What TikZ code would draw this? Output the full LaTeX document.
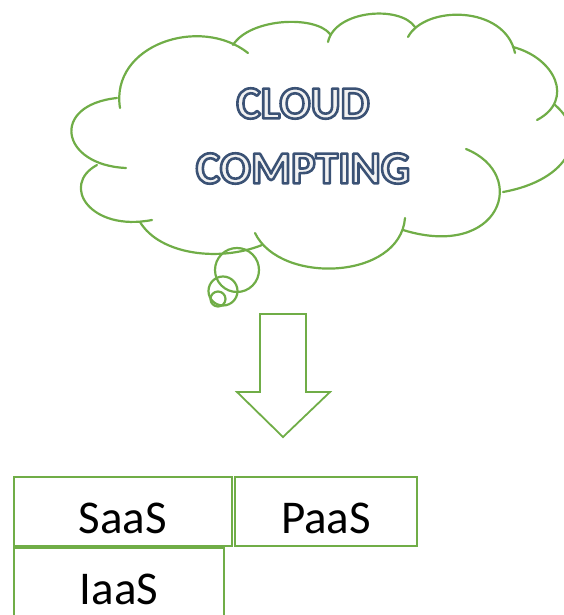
\documentclass[tikz,border=0pt]{standalone}
\usepackage{fontspec}
\setmainfont{Carlito}
\definecolor{cloudgreen}{HTML}{70AD47}
% outlined letters: light fill, dark blue stroke
\newcommand{\outlined}[1]{\special{pdf:literal direct q 0.95 0.95 0.95 rg 0.23 0.32 0.46 RG 2.6 w 1 j 2 Tr}#1\special{pdf:literal direct Q}}

\begin{document}
\begin{tikzpicture}[x=1pt, y=-1pt]
\useasboundingbox (0,0) rectangle (564,615);
\clip (0,0) rectangle (564,615);

\begin{scope}[draw=cloudgreen, line width=2.2pt, line cap=round]
    % cloud, one bump at a time
    \draw (120,108) .. controls (110,45) and (200,15) .. (248,53);
    \draw (233,45) .. controls (250,18) and (315,15) .. (330,34);
    \draw (328,42) .. controls (335,10) and (400,5) .. (415,27);
    \draw (408,37) .. controls (425,5) and (505,5) .. (515,53);
    \draw (513,47) .. controls (555,58) and (575,100) .. (537,120);
    \draw (555,105) .. controls (590,135) and (570,180) .. (503,192);
    \draw (466,149) .. controls (530,175) and (500,260) .. (403,230);
    \draw (405,218) .. controls (400,280) and (280,285) .. (255,233);
    \draw (262,245) .. controls (220,262) and (160,255) .. (140,222);
    \draw (152,220) .. controls (90,232) and (60,185) .. (97,165);
    \draw (126,168) .. controls (60,165) and (50,105) .. (117,98);

    \draw (237,270) circle[radius=22];
    \draw (223,291) circle[radius=14.5];
    \draw (218,299) circle[radius=7.5];
\end{scope}

\node (title) at (303,136) [align=center,
    font=\bfseries\fontsize{46}{65}\selectfont]
    {\outlined{CLOUD}\\\outlined{COMPTING}};

\draw [cloudgreen, line width=1.8pt] (260,314) -- (306,314) -- (306,392)
    -- (330,392) -- (283,437) -- (237,392) -- (260,392) -- cycle;

\begin{scope}[every node/.style={rectangle, draw=cloudgreen, line width=1.8pt,
              anchor=north west, inner sep=0pt, outer sep=0pt, minimum height=69pt,
              text height=43pt, text depth=0pt, font=\fontsize{47}{56}\selectfont}]
    \node (saas) at (14,477) [minimum width=218pt] {SaaS};
    \node (paas) at (235,477) [minimum width=182pt] {PaaS};
    \node (iaas) at (14,548) [minimum width=210pt] {IaaS};
\end{scope}
\end{tikzpicture}
\end{document}
